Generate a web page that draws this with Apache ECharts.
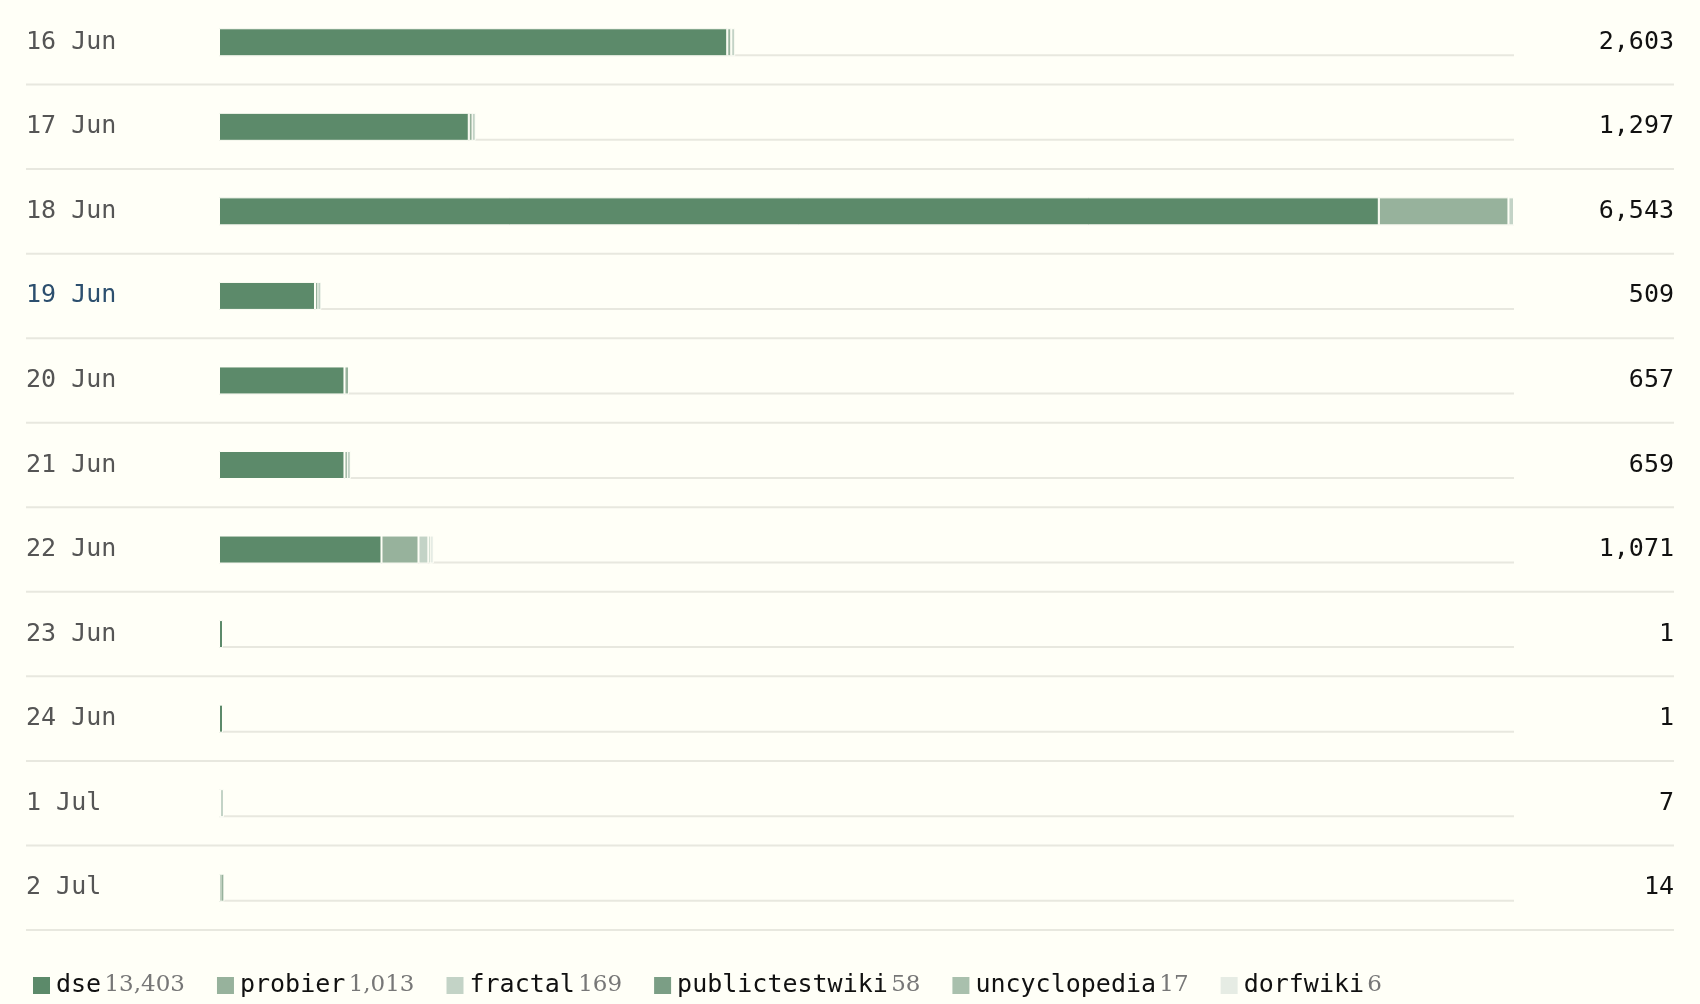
<!DOCTYPE html>
<html><head><meta charset="utf-8">
<script src="https://cdn.jsdelivr.net/npm/echarts@6/dist/echarts.min.js"></script>
<style>html,body{margin:0;background:#fffff7}#c{width:1700px;height:1004px}</style>
</head><body><div id="c"></div>
<script>
const categories = ['16 Jun','17 Jun','18 Jun','19 Jun','20 Jun','21 Jun','22 Jun','23 Jun','24 Jun','1 Jul','2 Jul'];
const totals = [2603,1297,6543,509,657,659,1071,1,1,7,14];
const seriesNames = ['dse','probier','fractal','publictestwiki','uncyclopedia','dorfwiki'];
const legendTotals = [13403,1013,169,58,17,6];
const dse =            [2568,1262,5860,485,634,634,821,1,1,3,7];
const probier =        [20,15,655,12,23,12,187,0,0,2,7];
const fractal =        [15,20,28,12,0,13,50,0,0,2,0];
const publictestwiki = [0,0,0,0,0,0,0,0,0,0,0];
const uncyclopedia =   [0,0,0,0,0,0,7,0,0,0,0];
const dorfwiki =       [0,0,0,0,0,0,6,0,0,0,0];
const values = [dse,probier,fractal,publictestwiki,uncyclopedia,dorfwiki];
const colors = ['#5c8a6a','#97b29c','#c3d3c6','#7b9e85','#a9c0ad','#e6ece4'];
const BG = '#fffff7';
const mono = '"DejaVu Sans Mono", monospace';
const serif = '"DejaVu Serif", "Liberation Serif", serif';

const chart = echarts.init(document.getElementById('c'));
const fmt = n => n.toLocaleString('en-US');
chart.setOption({
  backgroundColor: BG,
  animation: false,
  grid: {left: 219, right: 186, top: 0, height: 930},
  xAxis: {type: 'value', max: 6543, show: false},
  yAxis: [
    {type: 'category', inverse: true, data: categories, axisLine: {show: false}, axisTick: {show: false},
     axisLabel: {align: 'left', margin: 193, fontFamily: mono, fontSize: 25,
       color: (v) => v === '19 Jun' ? '#2c4f6e' : '#555555'}},
    {type: 'category', inverse: true, position: 'right', data: totals.map(fmt), axisLine: {show: false}, axisTick: {show: false},
     axisLabel: {align: 'right', margin: 160, fontFamily: mono, fontSize: 25, color: '#111'}}
  ],
  legend: {
    left: 26, top: 968, icon: 'rect', itemWidth: 19, itemHeight: 19, itemGap: 30,
    data: seriesNames,
    formatter: (name) => '{n|' + name + '} {v|' + fmt(legendTotals[seriesNames.indexOf(name)]) + '}',
    textStyle: {rich: {n: {fontFamily: mono, fontSize: 25, color: '#111'}, v: {fontFamily: serif, fontSize: 23, color: '#777'}}}
  },
  series: seriesNames.map((n, i) => ({
    name: n, type: 'bar', stack: 'a', barWidth: 28, barMinHeight: 4,
    data: values[i].map(v => v > 0 ? v : null),
    itemStyle: {color: colors[i], borderColor: BG, borderWidth: 1}
  }))
});

// separators and tracks
const g = [];
const pitch = 930 / categories.length;
for (let i = 0; i < categories.length; i++) {
  const yb = (i + 1) * pitch;
  g.push({type: 'line', shape: {x1: 26, y1: yb, x2: 1674, y2: yb}, style: {stroke: '#e8e8df', lineWidth: 2}, z: 0});
  const yc = chart.convertToPixel({yAxisIndex: 0}, categories[i]);
  g.push({type: 'line', shape: {x1: 219, y1: yc + 13, x2: 1514, y2: yc + 13}, style: {stroke: '#e8e8df', lineWidth: 2}, z: 0});
}
chart.setOption({graphic: g});
</script></body></html>
